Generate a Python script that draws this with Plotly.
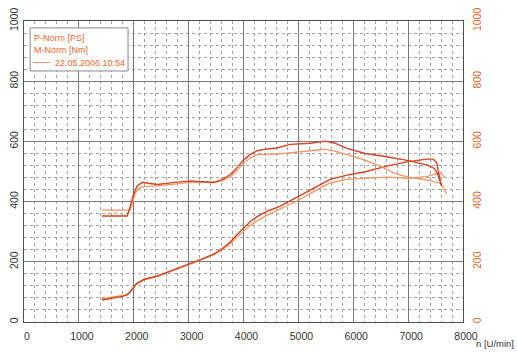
import plotly.graph_objects as go

# ---- data ----
# Run 1 (dark) torque [Nm]
rpm_m1 = [1420, 1880, 1930, 1990, 2060, 2160, 2300, 2430, 2700, 3040, 3300, 3450, 3600, 3760,
          3880, 4000, 4120, 4250, 4430, 4610, 4850, 5220, 5490, 5670, 5885, 6220, 6610, 7005,
          7340, 7480, 7540, 7580, 7610]
m1 = [352, 352, 380, 420, 452, 464, 460, 457, 463, 469, 465, 463, 472, 490,
      512, 538, 556, 569, 575, 578, 590, 594, 601, 594, 577, 560, 549, 536,
      522, 510, 490, 470, 452]
# Run 2 (light) torque [Nm]
rpm_m2 = [1420, 1930, 1970, 2020, 2090, 2180, 2430, 2700, 3040, 3520, 3650, 3760, 3880, 4000,
          4120, 4250, 4430, 4610, 4850, 5035, 5300, 5490, 5700, 5900, 6130, 6300, 6490, 6760,
          7005, 7340, 7580, 7650, 7700]
m2 = [372, 372, 390, 425, 445, 450, 452, 458, 464, 466, 472, 483, 503, 527,
      545, 555, 558, 558, 562, 566, 570, 574, 566, 556, 543, 532, 518, 494,
      481, 472, 461, 445, 425]
# Run 1 (dark) power [PS]
rpm_p1 = [1420, 1600, 1800, 1880, 1950, 2050, 2190, 2430, 2730, 3035, 3250, 3460, 3620, 3760,
          3880, 4000, 4130, 4250, 4430, 4670, 4975, 5280, 5580, 5885, 6220, 6610, 7005, 7340,
          7460, 7520, 7550, 7580, 7600]
p1 = [73, 78, 85, 90, 103, 128, 142, 153, 175, 195, 210, 226, 245, 266,
      290, 310, 335, 350, 368, 385, 414, 444, 474, 488, 499, 518, 533, 541,
      541, 530, 505, 470, 455]
# Run 2 (light) power [PS]
rpm_p2 = [1420, 1600, 1800, 1880, 1950, 2050, 2190, 2430, 2730, 3035, 3250, 3460, 3620, 3760,
          3880, 4000, 4130, 4250, 4430, 4670, 4975, 5280, 5580, 5885, 6220, 6610, 7005, 7340,
          7500, 7600, 7680]
p2 = [78, 82, 88, 93, 104, 126, 140, 151, 173, 193, 208, 224, 241, 260,
      282, 300, 322, 336, 355, 376, 402, 433, 462, 474, 478, 481, 477, 483,
      492, 494, 478]

x_ticks = [0, 1000, 2000, 3000, 4000, 5000, 6000, 7000, 8000]
y_ticks = [0, 200, 400, 600, 800, 1000]

legend_lines = ["P-Norm [PS]", "M-Norm [Nm]", "22.05.2006 10:54"]
x_title = "n [U/min]"

DARK = "#d2431f"
LIGHT = "#f39462"
ORANGE = "#e4662c"
FONT = "Liberation Sans, Arial, sans-serif"

fig = go.Figure()
fig.add_trace(go.Scatter(x=rpm_p2, y=p2, mode="lines", line=dict(color=LIGHT, width=1.3), yaxis="y"))
fig.add_trace(go.Scatter(x=rpm_m2, y=m2, mode="lines", line=dict(color=LIGHT, width=1.3), yaxis="y2"))
fig.add_trace(go.Scatter(x=rpm_p1, y=p1, mode="lines", line=dict(color=DARK, width=1.4), yaxis="y"))
fig.add_trace(go.Scatter(x=rpm_m1, y=m1, mode="lines", line=dict(color=DARK, width=1.4), yaxis="y2"))

grid_major = "#7a7a7a"
grid_minor = "#a0a0a0"

fig.update_layout(
    width=517, height=353,
    margin=dict(l=24, r=54, t=21, b=31, autoexpand=False),
    paper_bgcolor="white", plot_bgcolor="white",
    showlegend=False,
    font=dict(family=FONT, size=11, color="#333333"),
    xaxis=dict(
        range=[0, 8000], tickvals=x_ticks, ticktext=[str(v) for v in x_ticks],
        showgrid=True, gridcolor=grid_major, gridwidth=1,
        minor=dict(dtick=200, showgrid=True, gridcolor=grid_minor, griddash="3px,3px", gridwidth=1),
        showline=True, linecolor="#505050", linewidth=1, mirror=True,
        zeroline=False, ticks="", ticklabelshift=3, ticklabelstandoff=4,
        tickfont=dict(size=10.5, color="#333333"), automargin=False,
    ),
    yaxis=dict(
        range=[0, 1000], tickvals=y_ticks, ticktext=[str(v) for v in y_ticks],
        showgrid=True, gridcolor=grid_major, gridwidth=1,
        minor=dict(dtick=40, showgrid=True, gridcolor=grid_minor, griddash="3px,3px", gridwidth=1),
        showline=True, linecolor="#505050", linewidth=1, mirror=True,
        zeroline=False, ticks="", tickangle=-90, ticklabelstandoff=1,
        tickfont=dict(size=10.5, color="#333333"), automargin=False,
    ),
    yaxis2=dict(
        range=[0, 1000], tickvals=y_ticks, ticktext=[str(v) for v in y_ticks],
        overlaying="y", side="right", showgrid=False, zeroline=False,
        ticks="", tickangle=-90, ticklabelstandoff=6,
        tickfont=dict(size=10.5, color=ORANGE), automargin=False,
    ),
)

# legend box
fig.add_shape(type="rect", xref="paper", yref="paper", x0=0.014, x1=0.237, y0=0.834, y1=0.977,
              line=dict(color="#8a8a8a", width=1), fillcolor="white", layer="above")
fig.add_annotation(xref="paper", yref="paper", x=0.019, y=0.944, text=legend_lines[0], showarrow=False,
                   xanchor="left", yanchor="middle", font=dict(size=9, color=ORANGE, family=FONT))
fig.add_annotation(xref="paper", yref="paper", x=0.019, y=0.904, text=legend_lines[1], showarrow=False,
                   xanchor="left", yanchor="middle", font=dict(size=9, color=ORANGE, family=FONT))
fig.add_shape(type="line", xref="paper", yref="paper", x0=0.021, x1=0.06, y0=0.862, y1=0.862,
              line=dict(color=LIGHT, width=1), layer="above")
fig.add_annotation(xref="paper", yref="paper", x=0.235, y=0.862, text=legend_lines[2], showarrow=False,
                   xanchor="right", yanchor="middle", font=dict(size=9, color=ORANGE, family=FONT))

fig.add_annotation(xref="paper", yref="paper", x=1.025, y=-0.07, text=x_title, showarrow=False,
                   xanchor="left", yanchor="middle", font=dict(size=9.5, color="#333333", family=FONT))

fig.write_html("out.html")
